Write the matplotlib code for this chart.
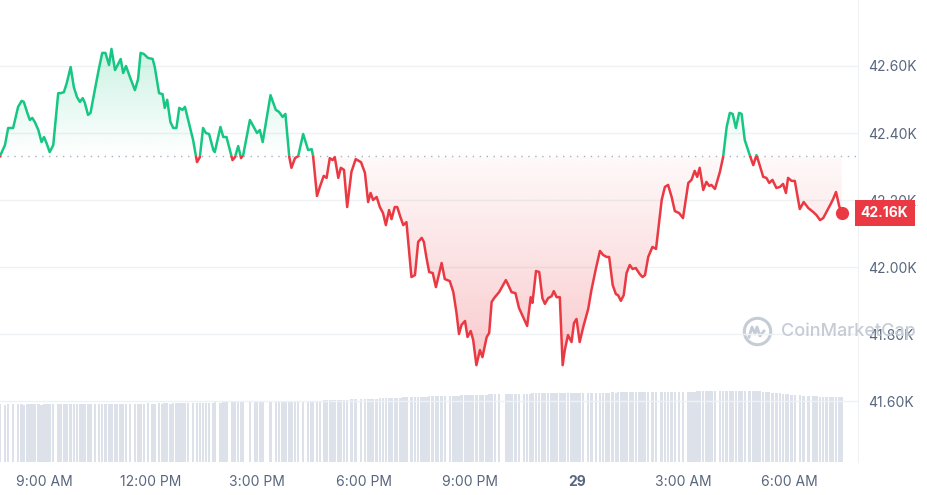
import numpy as np
import matplotlib
import matplotlib.pyplot as plt
from matplotlib.patches import Rectangle, Polygon
from matplotlib.lines import Line2D

plt.rcParams['font.family'] = ['Inter', 'DejaVu Sans']

# time in hours since midnight of the 28th, price in thousands USD
hours = [
    7.75, 7.89, 7.98, 8.12, 8.26, 8.36, 8.42, 8.52, 8.59, 8.66,
    8.73, 8.83, 8.92, 8.99, 9.06, 9.15, 9.25, 9.39, 9.46, 9.55,
    9.63, 9.74, 9.83, 9.92, 10.00, 10.08, 10.14, 10.23, 10.30, 10.42,
    10.54, 10.63, 10.72, 10.82, 10.89, 10.99, 11.05, 11.15, 11.22, 11.30,
    11.41, 11.55, 11.64, 11.71, 11.80, 11.92, 12.05, 12.11, 12.23, 12.33,
    12.39, 12.46, 12.55, 12.63, 12.72, 12.80, 12.89, 12.96, 13.05, 13.19,
    13.30, 13.38, 13.47, 13.55, 13.64, 13.76, 13.80, 13.96, 14.04, 14.13,
    14.30, 14.37, 14.46, 14.54, 14.60, 14.79, 14.93, 14.99, 15.07, 15.15,
    15.37, 15.52, 15.61, 15.71, 15.79, 15.90, 15.96, 16.06, 16.15, 16.29,
    16.43, 16.53, 16.57, 16.68, 16.76, 16.87, 16.95, 17.04, 17.12, 17.18,
    17.28, 17.35, 17.44, 17.53, 17.65, 17.77, 17.92, 18.03, 18.12, 18.19,
    18.26, 18.36, 18.45, 18.54, 18.62, 18.71, 18.78, 18.87, 18.94, 19.03,
    19.11, 19.20, 19.34, 19.44, 19.53, 19.63, 19.69, 19.76, 19.84, 19.94,
    20.03, 20.09, 20.19, 20.28, 20.42, 20.52, 20.61, 20.68, 20.75, 20.85,
    20.92, 21.01, 21.08, 21.17, 21.27, 21.34, 21.46, 21.53, 21.60, 21.69,
    21.81, 22.00, 22.07, 22.16, 22.27, 22.37, 22.51, 22.60, 22.70, 22.75,
    22.85, 22.94, 23.03, 23.10, 23.19, 23.29, 23.35, 23.43, 23.52, 23.60,
    23.66, 23.75, 23.85, 23.92, 23.99, 24.08, 24.18, 24.32, 24.41, 24.54,
    24.65, 24.74, 24.84, 24.91, 25.01, 25.10, 25.16, 25.24, 25.32, 25.40,
    25.49, 25.57, 25.66, 25.77, 25.85, 25.92, 26.01, 26.13, 26.23, 26.39,
    26.48, 26.57, 26.67, 26.76, 26.88, 26.99, 27.14, 27.23, 27.32, 27.39,
    27.46, 27.56, 27.65, 27.73, 27.79, 27.89, 28.03, 28.12, 28.22, 28.31,
    28.39, 28.48, 28.57, 28.64, 28.73, 28.87, 28.97, 29.06, 29.15, 29.25,
    29.34, 29.42, 29.51, 29.62, 29.72, 29.81, 29.89, 29.95, 30.05, 30.14,
    30.28, 30.39, 30.52, 30.66, 30.75, 30.85, 30.94, 31.03, 31.15, 31.22,
    31.30, 31.39, 31.46,
]
price = [
    42.331, 42.364, 42.415, 42.415, 42.478, 42.496, 42.493, 42.460, 42.439, 42.445,
    42.433, 42.409, 42.373, 42.388, 42.370, 42.343, 42.364, 42.519, 42.519, 42.522,
    42.549, 42.597, 42.537, 42.507, 42.493, 42.504, 42.490, 42.454, 42.460, 42.528,
    42.594, 42.639, 42.639, 42.603, 42.651, 42.588, 42.600, 42.621, 42.579, 42.600,
    42.567, 42.528, 42.561, 42.639, 42.636, 42.624, 42.621, 42.597, 42.519, 42.516,
    42.475, 42.499, 42.433, 42.415, 42.415, 42.475, 42.469, 42.478, 42.439, 42.379,
    42.313, 42.328, 42.415, 42.400, 42.397, 42.349, 42.343, 42.418, 42.388, 42.388,
    42.319, 42.328, 42.361, 42.325, 42.334, 42.439, 42.412, 42.400, 42.409, 42.373,
    42.513, 42.469, 42.463, 42.448, 42.457, 42.328, 42.296, 42.325, 42.331, 42.397,
    42.349, 42.352, 42.331, 42.212, 42.239, 42.272, 42.266, 42.325, 42.319, 42.328,
    42.266, 42.296, 42.290, 42.179, 42.284, 42.322, 42.313, 42.281, 42.194, 42.221,
    42.200, 42.209, 42.179, 42.161, 42.125, 42.170, 42.143, 42.179, 42.179, 42.149,
    42.125, 42.134, 41.970, 41.976, 42.075, 42.087, 42.075, 42.030, 41.985, 41.982,
    41.940, 41.967, 42.012, 41.964, 41.958, 41.925, 41.863, 41.800, 41.827, 41.839,
    41.791, 41.809, 41.782, 41.707, 41.752, 41.731, 41.791, 41.803, 41.896, 41.910,
    41.925, 41.961, 41.946, 41.925, 41.922, 41.878, 41.845, 41.824, 41.910, 41.893,
    41.988, 41.985, 41.907, 41.890, 41.907, 41.913, 41.928, 41.910, 41.910, 41.707,
    41.752, 41.797, 41.776, 41.833, 41.845, 41.776, 41.821, 41.875, 41.931, 41.997,
    42.048, 42.036, 42.030, 42.030, 41.946, 41.919, 41.916, 41.899, 41.916, 41.982,
    42.006, 41.994, 41.997, 41.979, 41.970, 41.976, 42.030, 42.060, 42.054, 42.200,
    42.239, 42.245, 42.209, 42.167, 42.161, 42.146, 42.251, 42.260, 42.287, 42.269,
    42.296, 42.230, 42.254, 42.242, 42.245, 42.233, 42.284, 42.328, 42.418, 42.460,
    42.457, 42.415, 42.460, 42.457, 42.379, 42.334, 42.304, 42.334, 42.304, 42.269,
    42.266, 42.251, 42.260, 42.236, 42.239, 42.248, 42.221, 42.266, 42.257, 42.257,
    42.173, 42.194, 42.176, 42.164, 42.155, 42.140, 42.146, 42.164, 42.188, 42.203,
    42.224, 42.182, 42.161,
]
# rolling volume, billions USD
volume = [
    18.5, 18.4, 18.5, 18.5, 18.6, 18.5, 18.4, 18.5, 18.5, 18.6, 18.5, 18.5, 18.4, 18.5, 18.6, 18.5, 18.5, 18.6, 18.5, 18.5,
    18.6, 18.5, 18.5, 18.6, 18.6, 18.5, 18.6, 18.6, 18.5, 18.6, 18.6, 18.7, 18.6, 18.6, 18.7, 18.6, 18.6, 18.7, 18.7, 18.6,
    18.7, 18.7, 18.6, 18.7, 18.7, 18.8, 18.7, 18.7, 18.8, 18.7, 18.8, 18.8, 18.7, 18.8, 18.8, 18.9, 18.8, 18.8, 18.9, 18.9,
    18.9, 19.0, 18.9, 19.0, 19.0, 19.0, 19.1, 19.0, 19.1, 19.1, 19.1, 19.2, 19.1, 19.2, 19.2, 19.2, 19.3, 19.2, 19.3, 19.3,
    19.3, 19.4, 19.4, 19.4, 19.5, 19.4, 19.5, 19.5, 19.5, 19.6, 19.6, 19.6, 19.7, 19.7, 19.7, 19.8, 19.8, 19.8, 19.9, 19.9,
    19.9, 20.0, 20.0, 20.0, 20.1, 20.1, 20.2, 20.2, 20.2, 20.3, 20.3, 20.3, 20.4, 20.4, 20.5, 20.5, 20.5, 20.6, 20.6, 20.6,
    20.7, 20.7, 20.7, 20.8, 20.8, 20.9, 20.9, 20.9, 21.0, 21.0, 21.0, 21.1, 21.1, 21.2, 21.2, 21.2, 21.3, 21.3, 21.4, 21.4,
    21.4, 21.5, 21.5, 21.5, 21.6, 21.6, 21.6, 21.7, 21.7, 21.7, 21.8, 21.8, 21.8, 21.8, 21.9, 21.9, 21.9, 21.9, 21.9, 22.0,
    22.0, 22.0, 22.0, 22.0, 22.0, 22.1, 22.1, 22.1, 22.1, 22.1, 22.1, 22.1, 22.1, 22.2, 22.1, 22.2, 22.2, 22.2, 22.2, 22.2,
    22.2, 22.2, 22.2, 22.2, 22.3, 22.2, 22.3, 22.3, 22.3, 22.3, 22.3, 22.3, 22.3, 22.3, 22.3, 22.4, 22.3, 22.4, 22.4, 22.4,
    22.4, 22.4, 22.5, 22.4, 22.5, 22.5, 22.5, 22.5, 22.5, 22.6, 22.6, 22.6, 22.6, 22.6, 22.7, 22.7, 22.7, 22.7, 22.8, 22.8,
    22.8, 22.8, 22.9, 22.9, 22.9, 22.9, 22.8, 22.7, 22.6, 22.5, 22.4, 22.3, 22.2, 22.1, 22.0, 21.9, 21.8, 21.7, 21.6, 21.5,
    21.4, 21.3, 21.2, 21.1, 21.0, 20.9, 20.9, 20.8, 20.8, 20.7, 20.7, 20.7, 20.7,
]
open_price = 42.33
last_price = price[-1]

yticks = [41.6, 41.8, 42.0, 42.2, 42.4, 42.6]
xticks = [9, 12, 15, 18, 21, 24, 27, 30]
xlabels = ['9:00 AM', '12:00 PM', '3:00 PM', '6:00 PM', '9:00 PM', '29', '3:00 AM', '6:00 AM']

GREEN = '#16c784'
RED = '#ea3943'
GREY = '#58667e'

fig = plt.figure(figsize=(9.28, 4.95), dpi=100)
rect = [0, 33 / 495, 858 / 928, 462 / 495]
axv = fig.add_axes(rect, zorder=1)
ax = fig.add_axes(rect, zorder=2)
ax.patch.set_visible(False)

xlim = (7.75, 31.92)
ylim = (41.418, 42.797)

# volume bars
axv.bar(hours, volume, width=0.07, color='#dde2ea', linewidth=0)
axv.set_xlim(xlim)
axv.set_ylim(0, 148)
axv.axis('off')

for y in yticks:
    ax.axhline(y, color='#eff2f5', lw=1, zorder=0)
ax.axhline(open_price, color='#a6b0c3', lw=1, ls=(0, (1, 4)), zorder=1)

# gradient fill between price and open price
n = 400
levels = np.linspace(ylim[0], ylim[1], n)
rgba = np.zeros((n, 1, 4))
up = levels >= open_price
rgba[up, 0, :3] = matplotlib.colors.to_rgb(GREEN)
rgba[up, 0, 3] = np.clip((levels[up] - open_price) / (42.65 - open_price), 0, 1) * 0.22
rgba[~up, 0, :3] = matplotlib.colors.to_rgb(RED)
rgba[~up, 0, 3] = 0.03 + np.clip((open_price - levels[~up]) / (open_price - 41.70), 0, 1) * 0.24
im = ax.imshow(rgba, extent=[hours[0], hours[-1], ylim[0], ylim[1]], origin='lower',
               aspect='auto', zorder=1, interpolation='bilinear')
poly = Polygon(list(zip(hours, price)) + [(hours[-1], open_price), (hours[0], open_price)],
               closed=True, facecolor='none', edgecolor='none', transform=ax.transData)
ax.add_patch(poly)
im.set_clip_path(poly)

# price line, green above open, red below
lg, = ax.plot(hours, price, color=GREEN, lw=1.8, zorder=3, solid_joinstyle='round')
lg.set_clip_path(Rectangle((xlim[0], open_price), xlim[1] - xlim[0], 2, transform=ax.transData))
lr, = ax.plot(hours, price, color=RED, lw=1.8, zorder=3, solid_joinstyle='round')
lr.set_clip_path(Rectangle((xlim[0], open_price - 2), xlim[1] - xlim[0], 2, transform=ax.transData))
ax.plot(hours[-1], last_price, 'o', color=RED, ms=8.5, zorder=4)

ax.set_xlim(xlim)
ax.set_ylim(ylim)
ax.set_yticks(yticks)
ax.set_yticklabels([f'{v:.2f}K' for v in yticks])
ax.yaxis.tick_right()
ax.tick_params(axis='y', length=0, pad=7, labelsize=10, labelcolor=GREY)
ax.set_xticks(xticks)
ax.set_xticklabels(xlabels)
ax.tick_params(axis='x', length=0, pad=9, labelsize=10, labelcolor=GREY)
ax.get_xticklabels()[5].set_fontweight('bold')
for s in ['top', 'left', 'bottom']:
    ax.spines[s].set_visible(False)
ax.spines['right'].set_color('#eff2f5')

ax.annotate(f'{last_price:.2f}K', xy=(1, last_price), xycoords=('axes fraction', 'data'),
            xytext=(2, 0), textcoords='offset points', ha='left', va='center',
            color='white', fontsize=10, fontweight='bold', annotation_clip=False, zorder=5,
            bbox=dict(boxstyle='square,pad=0.45', fc=RED, ec='none'))

# watermark
wm = '#c5ccd6'
fig.text(781 / 928, 1 - 331 / 495, 'CoinMarketCap', fontsize=13, color=wm,
         va='center', ha='left', fontweight='medium', zorder=6)
fig.add_artist(Line2D([757 / 928], [1 - 331 / 495], marker='o', ms=19, mfc='none',
                      mec=wm, mew=2.2, transform=fig.transFigure))
wx = [749, 752, 755, 757, 760, 764]
wy = [337, 327, 334, 327, 336, 331]
fig.add_artist(Line2D([v / 928 for v in wx], [1 - v / 495 for v in wy], color=wm, lw=2,
                      transform=fig.transFigure, solid_joinstyle='round'))

fig.savefig('out.png', dpi=100)
